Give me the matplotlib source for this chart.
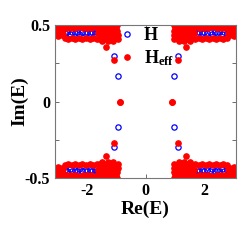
import numpy as np
import matplotlib
matplotlib.use('Agg')
import matplotlib.pyplot as plt

# Spectrum, upper-left quarter (Re<0, Im>0).
# The spectrum is symmetric under E -> -E and E -> E*, so the other
# quarters are the mirror images of this one.

# H (open blue circles)
h_re = [-3.00, -2.86, -2.71, -2.52, -2.33, -2.12, -1.91, -1.72, -1.52, -1.32, -1.12,
        -2.74, -2.66, -2.58, -2.49, -2.41, -2.33, -2.25, -2.16, -2.07, -1.98,
        -1.90, -1.81, -1.72, -1.64,
        -1.09, -0.945]
h_im = [0.497, 0.496, 0.497, 0.495, 0.496, 0.497, 0.495, 0.496, 0.497, 0.495, 0.496,
        0.448, 0.455, 0.443, 0.452, 0.446, 0.457, 0.444, 0.451, 0.447, 0.455,
        0.445, 0.452, 0.448, 0.456,
        0.297, 0.167]

# H_eff (filled red dots)
heff_re = [-3.05, -2.98, -2.91, -2.84, -2.77, -2.70, -2.63, -2.56, -2.49, -2.42,
           -2.35, -2.28, -2.21, -2.14, -2.07, -2.00, -1.93, -1.86, -1.79, -1.72,
           -1.65, -1.58, -1.51, -1.44, -1.37, -1.30, -1.23, -1.16, -1.09, -1.02,
           -0.97,
           -3.02, -2.92, -2.81, -2.69, -2.55, -2.40, -2.26, -2.12, -1.98, -1.85,
           -1.72, -1.60, -1.49, -1.39, -1.29, -1.19, -1.09, -1.00,
           -3.05, -2.97, -2.86, -1.58, -1.47, -1.36, -1.26, -1.15, -1.05, -0.97,
           -3.03, -2.92, -2.80, -1.62, -1.52, -1.42, -1.31, -1.21, -1.11, -1.01,
           -2.98, -2.86, -1.55, -1.45, -1.34, -1.23, -1.13, -1.03, -0.95,
           -2.74, -2.63, -2.51, -2.39, -2.27, -2.15, -2.03, -1.91, -1.79, -1.67,
           -1.54, -1.41, -1.28, -1.17, -1.06, -0.96,
           -1.50, -1.30, -1.12,
           -1.35, -1.09, -0.88]
heff_im = [0.498, 0.497, 0.498, 0.497, 0.498, 0.497, 0.498, 0.497, 0.498, 0.497,
           0.498, 0.497, 0.498, 0.497, 0.498, 0.497, 0.498, 0.497, 0.498, 0.497,
           0.498, 0.497, 0.498, 0.497, 0.498, 0.497, 0.498, 0.497, 0.498, 0.497,
           0.498,
           0.482, 0.479, 0.484, 0.478, 0.483, 0.480, 0.485, 0.479, 0.482, 0.478,
           0.484, 0.480, 0.483, 0.477, 0.482, 0.479, 0.484, 0.480,
           0.465, 0.462, 0.466, 0.468, 0.463, 0.466, 0.461, 0.465, 0.467, 0.462,
           0.447, 0.450, 0.444, 0.446, 0.450, 0.443, 0.448, 0.445, 0.449, 0.444,
           0.430, 0.434, 0.432, 0.428, 0.433, 0.429, 0.431, 0.426, 0.432,
           0.413, 0.409, 0.415, 0.410, 0.412, 0.408, 0.414, 0.410, 0.413, 0.407,
           0.411, 0.406, 0.413, 0.409, 0.412, 0.408,
           0.394, 0.397, 0.393,
           0.358, 0.271, 0.0]


def full_spectrum(re, im):
    re = np.array(re)
    im = np.array(im)
    xs = np.concatenate([re, -re, re, -re])
    ys = np.concatenate([im, im, -im, -im])
    return xs, ys


hx, hy = full_spectrum(h_re, h_im)
ex, ey = full_spectrum(heff_re, heff_im)

plt.rcParams['font.family'] = 'Liberation Serif'
plt.rcParams['font.weight'] = 'bold'
plt.rcParams['mathtext.fontset'] = 'custom'
plt.rcParams['mathtext.rm'] = 'Liberation Serif:bold'
plt.rcParams['mathtext.bf'] = 'Liberation Serif:bold'
plt.rcParams['mathtext.it'] = 'Liberation Serif:bold'

fig = plt.figure(figsize=(2.49, 2.50), dpi=100)
ax = fig.add_axes([0.221, 0.288, 0.727, 0.612])

ax.plot(hx, hy, 'o', mfc='none', mec='#0000ff', mew=0.9, ms=3.8, ls='none', label='H')
ax.plot(ex, ey, 'o', mfc='#ff0000', mec='#ff0000', ms=3.8, ls='none',
        label=r'$\mathbf{H}_{\mathbf{eff}}$')

ax.set_xlim(-3.08, 3.06)
ax.set_ylim(-0.5, 0.5)
ax.set_xticks([-2, 0, 2])
ax.set_xticklabels(['-2', '0', '2'])
ax.set_yticks([-0.5, -0.25, 0, 0.25, 0.5])
ax.set_yticklabels(['-0.5', '', '0', '', '0.5'])
ax.tick_params(direction='in', top=True, right=True, length=3, width=0.6,
               colors='#555555', labelcolor='black', labelsize=11.5)
for s in ax.spines.values():
    s.set_color('#777777')
    s.set_linewidth(0.8)

ax.set_xlabel('Re(E)', fontsize=14, fontweight='bold', labelpad=1)
ax.set_ylabel('Im(E)', fontsize=14, fontweight='bold', labelpad=-3)

leg = ax.legend(loc='upper left', bbox_to_anchor=(0.28, 1.09), frameon=False,
                handlelength=0.6, handletextpad=0.6, labelspacing=0.2,
                prop={'size': 13, 'weight': 'bold'})

fig.savefig('out.png', dpi=100)
